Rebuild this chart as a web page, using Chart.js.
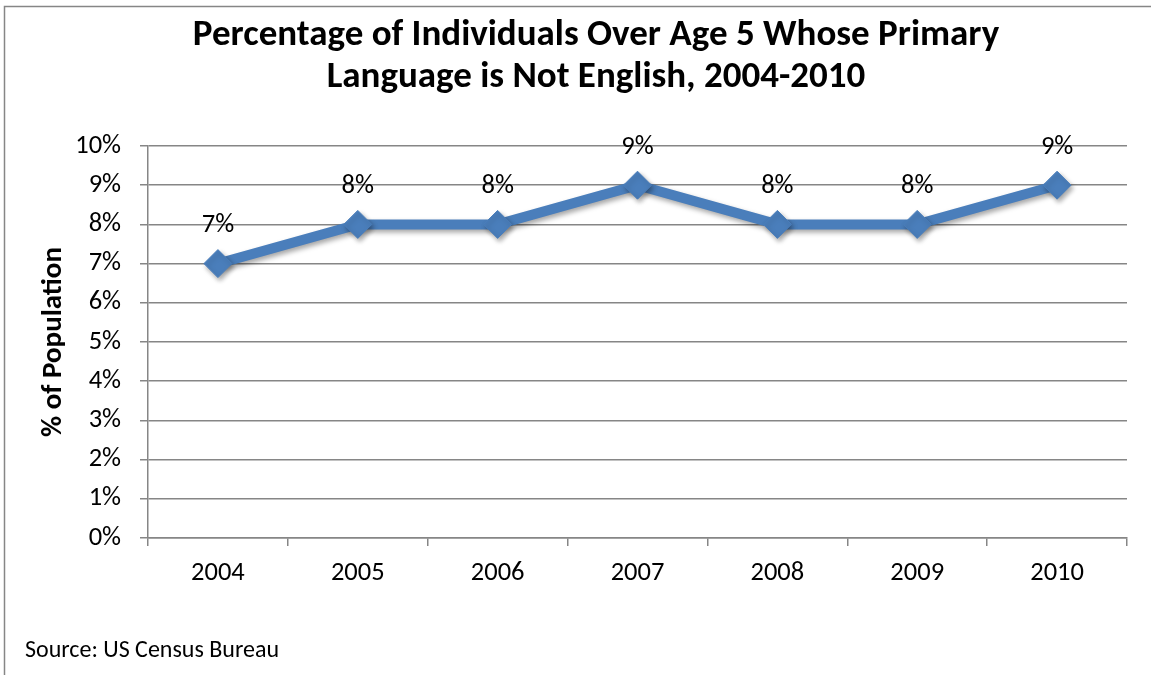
<!DOCTYPE html>
<html>
<head>
<meta charset="utf-8">
<script src="https://cdn.jsdelivr.net/npm/chart.js@4/dist/chart.umd.min.js"></script>
<style>
  html, body { margin: 0; padding: 0; background: #fff; }
  #wrap { width: 1151px; height: 675px; position: relative; }
</style>
</head>
<body>
<div id="wrap"><canvas id="langChart"></canvas></div>
<script>
// census figures, share of people 5+ speaking a language other than English at home
const years = ["2004", "2005", "2006", "2007", "2008", "2009", "2010"];
const shareNotEnglish = [7, 8, 8, 9, 8, 8, 9];
const titleLines = ["Percentage of Individuals Over Age 5 Whose Primary", "Language is Not English, 2004-2010"];
const sourceNote = "Source: US Census Bureau";

const FONT = "Carlito, Lato, sans-serif";
const gridGray = "#868686";
const lineBlue = "#4a7ebb";

// soft drop shadow under the line + diamonds
const seriesShadow = {
    id: "seriesShadow",
    beforeDatasetDraw(chart) {
        const ctx = chart.ctx;
        ctx.save();
        ctx.shadowColor = "rgba(0,0,0,0.35)";
        ctx.shadowBlur = 5;
        ctx.shadowOffsetX = 2;
        ctx.shadowOffsetY = 3;
    },
    afterDatasetDraw(chart) {
        chart.ctx.restore();
    }
};

// percent label above each point
const valueLabels = {
    id: "valueLabels",
    afterDatasetsDraw(chart) {
        const ctx = chart.ctx;
        const meta = chart.getDatasetMeta(0);
        ctx.save();
        ctx.font = "26.5px " + FONT;
        ctx.fillStyle = "#000";
        ctx.textAlign = "center";
        ctx.textBaseline = "middle";
        meta.data.forEach((pt, i) => {
            ctx.fillText(shareNotEnglish[i] + "%", pt.x, pt.y - 38);
        });
        ctx.restore();
    }
};

// heading, source line and the outer frame
const frameAndText = {
    id: "frameAndText",
    afterDraw(chart) {
        const ctx = chart.ctx;
        ctx.save();
        ctx.strokeStyle = gridGray;
        ctx.lineWidth = 1.5;
        ctx.strokeRect(4.5, 6.5, 1200, 700);

        ctx.fillStyle = "#000";
        ctx.textAlign = "center";
        ctx.textBaseline = "middle";
        ctx.font = "bold 37px " + FONT;
        ctx.fillText(titleLines[0], 596, 36);
        ctx.fillText(titleLines[1], 596, 78);

        ctx.textAlign = "left";
        ctx.font = "24px " + FONT;
        ctx.fillText(sourceNote, 25, 651);
        ctx.restore();
    }
};

new Chart(document.getElementById("langChart").getContext("2d"), {
    type: "line",
    data: {
        labels: years,
        datasets: [{
            data: shareNotEnglish,
            borderColor: lineBlue,
            backgroundColor: lineBlue,
            borderWidth: 10,
            tension: 0,
            pointStyle: "rectRot",
            pointRadius: 14,
            pointHoverRadius: 14,
            pointBackgroundColor: lineBlue,
            pointBorderColor: lineBlue,
            pointBorderWidth: 1
        }]
    },
    options: {
        responsive: true,
        maintainAspectRatio: false,
        animation: false,
        layout: { padding: { top: 146, right: 24, bottom: 67, left: 0 } },
        plugins: {
            legend: { display: false },
            tooltip: { enabled: false },
            title: { display: false }
        },
        events: [],
        scales: {
            x: {
                offset: true,
                grid: {
                    offset: true,
                    drawOnChartArea: false,
                    tickLength: 8,
                    color: gridGray,
                    lineWidth: 1.5
                },
                border: { color: gridGray, width: 1.5 },
                ticks: { color: "#000", font: { family: FONT, size: 26.5 }, padding: 11 },
                afterFit(scale) { scale.height = 70; }
            },
            y: {
                min: 0,
                max: 10,
                ticks: {
                    stepSize: 1,
                    color: "#000",
                    font: { family: FONT, size: 26.5 },
                    padding: 19,
                    callback: v => v + "%"
                },
                grid: { color: gridGray, lineWidth: 1.5, tickLength: 8 },
                border: { color: gridGray, width: 1.5 },
                title: {
                    display: true,
                    text: "% of Population",
                    color: "#000",
                    font: { family: FONT, size: 29, weight: "bold" },
                    padding: { top: 36, bottom: 0 }
                },
                afterFit(scale) { scale.width = 148; }
            }
        }
    },
    plugins: [seriesShadow, valueLabels, frameAndText]
});
</script>
</body>
</html>
